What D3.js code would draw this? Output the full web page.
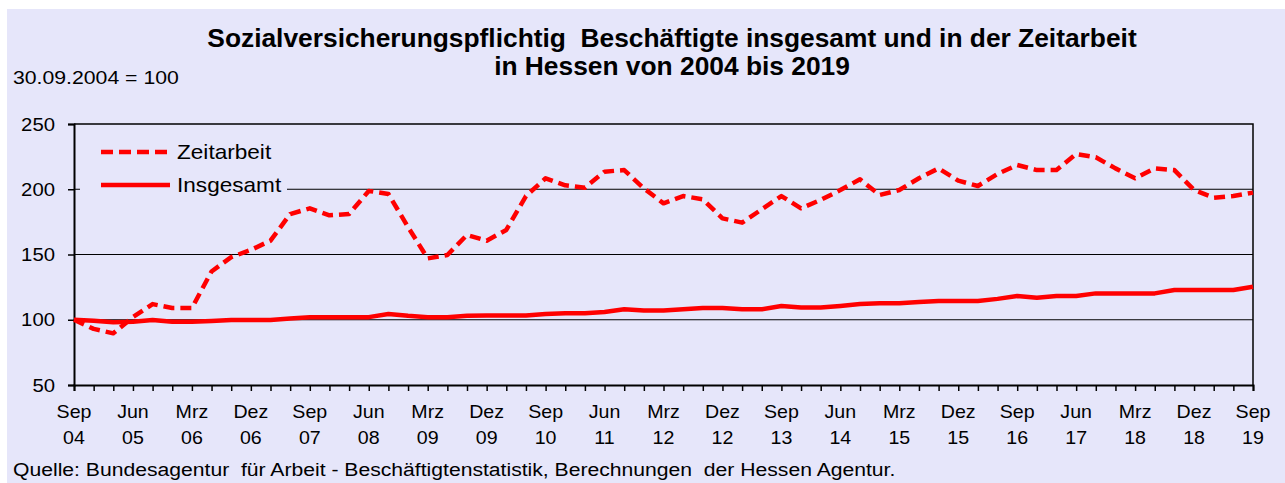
<!DOCTYPE html>
<html>
<head>
<meta charset="utf-8">
<script src="https://cdn.jsdelivr.net/npm/d3@7"></script>
<style>
  body { margin: 0; background: #fff; }
  svg text { font-family: Arial, "Liberation Sans", sans-serif; fill: #000; }
</style>
</head>
<body>
<svg id="chart" width="1285" height="483"></svg>
<script>
// Quartalswerte Sep 2004 .. Sep 2019, Index 30.09.2004 = 100
var zeitarbeit = [100, 93, 89.6, 102, 112, 109, 109, 137, 148, 153.5,
	160.6, 181, 185.4, 180, 181, 198.7, 196.4, 171, 147, 149.6,
	165, 160.6, 168.8, 194.8, 208.4, 203, 201.2, 213.5, 214.7, 200.7,
	189.2, 194.8, 192.3, 177.7, 174.4, 184.6, 194.8, 185.4, 191.8, 199.4,
	207.6, 195.6, 199.4, 208.4, 216, 206.6, 202.5, 211.7, 218.6, 214.7,
	214.7, 227, 224.5, 216, 208.4, 216, 214.7, 199.4, 193.5, 194.8,
	197.4];
var insgesamt = [100, 99.3, 98, 98.5, 99.8, 98.5, 98.5, 99, 99.8, 99.8,
	99.8, 101, 102, 102, 102, 102, 104.4, 103, 102, 102,
	103, 103.2, 103.2, 103.2, 104.4, 105, 105, 106, 108, 107,
	107, 108, 109, 109, 108, 108, 110.5, 109.3, 109.3, 110.5,
	112, 112.6, 112.6, 113.6, 114.4, 114.4, 114.4, 116, 118.2, 116.9,
	118.2, 118.2, 120.2, 120.2, 120.2, 120.2, 122.8, 122.8, 122.8, 122.8,
	125.3];
// Beschriftung jedes dritte Quartal
var monthLabels = ["Sep","Jun","Mrz","Dez","Sep","Jun","Mrz","Dez","Sep","Jun","Mrz",
	"Dez","Sep","Jun","Mrz","Dez","Sep","Jun","Mrz","Dez","Sep"];
var yearLabels = ["04","05","06","06","07","08","09","09","10","11","12",
	"12","13","14","15","15","16","17","18","18","19"];
var yTicks = [50, 100, 150, 200, 250];
var seriesNames = ["Zeitarbeit", "Insgesamt"];

var svg = d3.select("#chart");
var plotLeft = 74, plotRight = 1253, plotTop = 124, plotBottom = 385;

svg.append("rect")
	.attr("x", 7).attr("y", 9)
	.attr("width", 1278).attr("height", 474)
	.attr("fill", "#e6e6fa");

var x = d3.scaleLinear().domain([0, zeitarbeit.length - 1]).range([plotLeft, plotRight]);
var y = d3.scaleLinear().domain([50, 250]).range([plotBottom, plotTop]);

// Text etwas breiter laufen lassen wie im Original
function label(g, tx, ty, size, sx, anchor, str){
	return g.append("text")
		.attr("transform", "translate(" + tx + "," + ty + ") scale(" + sx + ",1)")
		.attr("text-anchor", anchor)
		.attr("font-size", size)
		.attr("xml:space", "preserve")
		.text(str);
}

// Gitterlinien
svg.append("g")
	.selectAll("line")
	.data(yTicks.filter(function(d){ return d > 50 && d < 250; }))
	.join("line")
	.attr("x1", plotLeft).attr("x2", plotRight)
	.attr("y1", function(d){ return y(d); })
	.attr("y2", function(d){ return y(d); })
	.attr("stroke", "#000")
	.attr("stroke-width", 1);

// Rahmen oben/rechts
svg.append("path")
	.attr("d", "M" + plotLeft + "," + plotTop + "H" + plotRight + "V" + plotBottom)
	.attr("fill", "none")
	.attr("stroke", "#000")
	.attr("stroke-width", 1.5);

// Legende (verdeckt Gitterlinie)
var legend = svg.append("g");
legend.append("rect")
	.attr("x", 80).attr("y", 134)
	.attr("width", 207).attr("height", 66)
	.attr("fill", "#e6e6fa");

// y-Achse
var yAxis = svg.append("g")
	.attr("transform", "translate(" + plotLeft + ",0)")
	.call(d3.axisLeft(y).tickValues(yTicks).tickSize(6).tickPadding(13));
yAxis.select(".domain").attr("stroke-width", 2);
yAxis.selectAll(".tick line").attr("stroke-width", 1.5);
yAxis.selectAll(".tick text")
	.attr("x", 0)
	.attr("transform", "translate(-19,0) scale(1.07,1)")
	.attr("font-size", 19)
	.attr("font-family", null);

// x-Achse, ein Strich pro Quartal
var xAxis = svg.append("g")
	.attr("transform", "translate(0," + plotBottom + ")")
	.call(d3.axisBottom(x).tickValues(d3.range(zeitarbeit.length))
		.tickSize(6).tickFormat(""));
xAxis.select(".domain").attr("stroke-width", 2);
xAxis.selectAll(".tick line").attr("stroke-width", 1.5);

var xLab = svg.append("g");
monthLabels.forEach(function(m, i){
	label(xLab, x(i * 3), 418, 18, 1.09, "middle", m);
	label(xLab, x(i * 3), 444, 18, 1.09, "middle", yearLabels[i]);
});

// Linien
var line = d3.line()
	.x(function(d, i){ return x(i); })
	.y(function(d){ return y(d); });

svg.append("path")
	.datum(insgesamt)
	.attr("d", line)
	.attr("fill", "none")
	.attr("stroke", "#ff0000")
	.attr("stroke-width", 4.5)
	.attr("stroke-linejoin", "round");

svg.append("path")
	.datum(zeitarbeit)
	.attr("d", line)
	.attr("fill", "none")
	.attr("stroke", "#ff0000")
	.attr("stroke-width", 4.5)
	.attr("stroke-dasharray", "11,6")
	.attr("stroke-linejoin", "round");

// Legendeneinträge
var legY = [152, 185];
legend.selectAll("line")
	.data(seriesNames)
	.join("line")
	.attr("x1", 101).attr("x2", 170)
	.attr("y1", function(d, i){ return legY[i]; })
	.attr("y2", function(d, i){ return legY[i]; })
	.attr("stroke", "#ff0000")
	.attr("stroke-width", 4.5)
	.attr("stroke-dasharray", function(d, i){ return i === 0 ? "12,6" : null; });
seriesNames.forEach(function(s, i){
	label(legend, 177, legY[i] + 7, 20, 1.13, "start", s);
});

// Titel
label(svg, 672, 47, 25, 1.054, "middle",
	"Sozialversicherungspflichtig  Beschäftigte insgesamt und in der Zeitarbeit")
	.attr("font-weight", "bold");
label(svg, 672, 75, 25, 1.054, "middle", "in Hessen von 2004 bis 2019")
	.attr("font-weight", "bold");

label(svg, 13, 84, 18, 1.18, "start", "30.09.2004 = 100");

label(svg, 13, 476, 18, 1.175, "start",
	"Quelle: Bundesagentur  für Arbeit - Beschäftigtenstatistik, Berechnungen  der Hessen Agentur.");
</script>
</body>
</html>
